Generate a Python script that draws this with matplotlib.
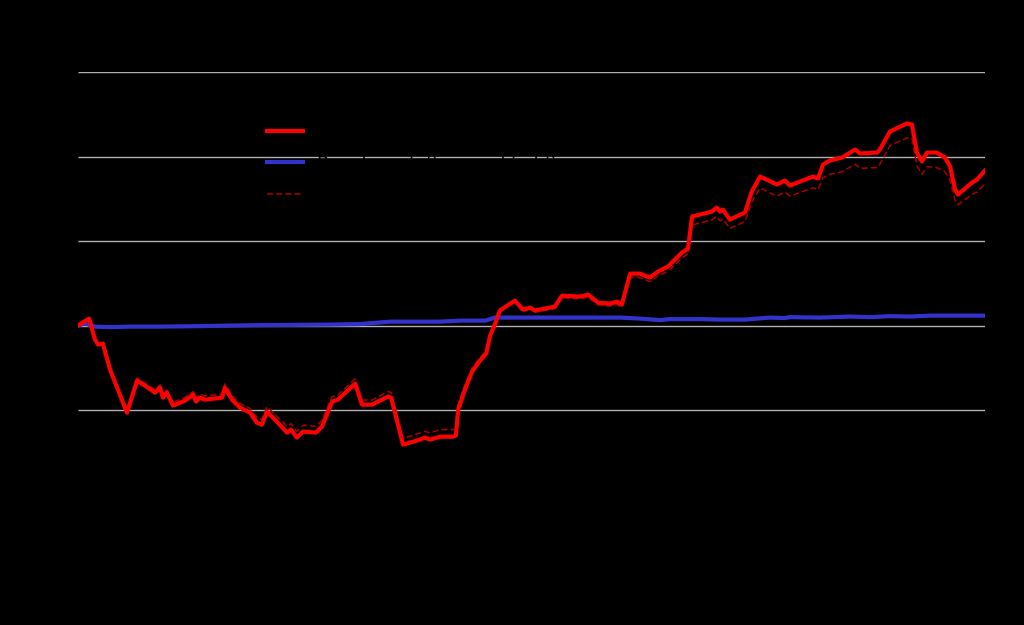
import matplotlib
matplotlib.use("Agg")
import matplotlib.pyplot as plt

# Trading-day index and cumulative returns (%)
strategy_days = [0, 1.7, 3.1, 4.7, 5.6, 6.9, 8.9, 13.6, 16.4, 18.6, 21.4, 22.8, 23.6, 24.7, 26.4,
                 29.7, 32.0, 32.8, 33.9, 35.3, 40.0, 40.8, 42.8, 45.0, 47.8, 49.7, 51.1, 52.5, 54.7,
                 58.1, 59.2, 60.8, 62.5, 66.1, 67.8, 70.6, 72.2, 77.0, 78.9, 81.7, 86.1, 87.0, 90.3,
                 92.2, 95.0, 96.4, 97.8, 100.6, 104.2, 105.0, 105.6, 107.5, 109.5, 111.7, 113.4,
                 114.5, 115.8, 117.2, 121.4, 123.6, 125.6, 127.0, 129.7, 132.5, 134.5, 139.5, 141.7,
                 144.5, 147.8, 149.7, 151.1, 153.4, 156.1, 158.9, 161.1, 163.9, 167.8, 169.5, 170.6,
                 176.1, 177.5, 178.4, 179.2, 181.1, 185.3, 187.2, 189.5, 194.2, 196.4, 197.8, 204.2,
                 205.6, 207.0, 208.9, 212.3, 215.9, 217.3, 222.0, 222.8, 225.6, 230.3, 231.7, 233.1,
                 234.5, 235.9, 238.6, 240.9, 242.3, 243.7, 244.5, 248.4, 249.8, 252.0]

strategy = [0.0, 0.47, 0.83, -1.66, -2.25, -2.13, -5.21, -10.30, -6.51, -7.10, -7.93, -7.34, -8.52,
            -7.93, -9.47, -8.88, -8.17, -8.99, -8.52, -8.76, -8.52, -7.34, -8.76, -9.70, -10.30,
            -11.48, -11.72, -10.18, -11.12, -12.66, -12.31, -13.25, -12.54, -12.66, -11.95, -8.99,
            -8.76, -6.86, -9.35, -9.35, -8.40, -8.52, -14.08, -13.85, -13.49, -13.25, -13.49,
            -13.14, -13.14, -13.0, -9.94, -7.57, -5.44, -4.14, -3.31, -1.18, 0.12, 1.78, 2.96,
            1.89, 2.13, 1.78, 2.01, 2.25, 3.55, 3.43, 3.67, 2.72, 2.60, 2.84, 2.49, 6.15, 6.15,
            5.68, 6.39, 6.98, 8.64, 9.11, 12.90, 13.49, 13.96, 13.49, 13.73, 12.54, 13.37, 15.86,
            17.63, 16.69, 17.16, 16.57, 17.63, 17.40, 19.05, 19.53, 19.88, 20.83, 20.36, 20.47,
            20.83, 22.96, 23.91, 23.79, 20.47, 19.41, 20.47, 20.47, 19.88, 18.82, 16.09, 15.50,
            16.92, 17.28, 18.34]

strategy_net = [0.0, 0.45, 0.8, -1.6, -2.2, -2.05, -5.1, -10.0, -6.2, -6.8, -7.6, -7.0, -8.2, -7.6,
                -9.1, -8.5, -7.8, -8.6, -8.1, -8.3, -8.1, -6.9, -8.3, -9.2, -9.8, -10.9, -11.1,
                -9.6, -10.5, -11.9, -11.6, -12.5, -11.8, -11.9, -11.2, -8.4, -8.2, -6.3, -8.8,
                -8.8, -7.8, -7.9, -13.3, -13.1, -12.7, -12.5, -12.7, -12.3, -12.3, -12.2, -9.3,
                -7.0, -5.0, -3.8, -3.0, -1.0, 0.1, 1.7, 2.8, 1.7, 1.95, 1.6, 1.8, 2.0, 3.3, 3.15,
                3.4, 2.45, 2.3, 2.5, 2.15, 5.7, 5.7, 5.2, 5.9, 6.4, 8.0, 8.5, 11.9, 12.5, 12.9,
                12.4, 12.6, 11.5, 12.3, 14.6, 16.3, 15.3, 15.8, 15.3, 16.3, 16.1, 17.5, 17.9, 18.2,
                19.1, 18.6, 18.7, 19.1, 21.3, 22.2, 22.1, 18.9, 17.9, 18.8, 18.7, 18.2, 17.2, 14.8,
                14.3, 15.5, 15.8, 16.8]

benchmark_days = [0, 1.9, 4.7, 8.9, 14.4, 22.8, 33.9, 50.6, 70.0, 78.3, 86.7, 100.6, 106.2, 113.2,
                  115.8, 125.6, 150.6, 156.1, 161.7, 164.4, 172.8, 178.4, 185.3, 192.2, 196.4,
                  197.8, 206.1, 214.5, 220.0, 225.6, 231.1, 236.7, 252.0]
benchmark = [0.0, 0.24, -0.12, -0.18, -0.12, -0.12, -0.06, 0.06, 0.12, 0.18, 0.47, 0.47, 0.59,
             0.59, 0.95, 0.95, 0.95, 0.83, 0.65, 0.77, 0.77, 0.71, 0.71, 0.95, 0.89, 1.0, 0.95,
             1.07, 1.0, 1.12, 1.07, 1.18, 1.18]

y_ticks = [-10, 0, 10, 20, 30]
labels = ["Strategy", "Benchmark (buy and hold)", "Strategy after costs"]

fig = plt.figure(figsize=(10.24, 6.25), dpi=100, facecolor="black")
ax = fig.add_axes([0.0762, 0.2288, 0.8857, 0.656])
ax.set_facecolor("black")

ax.plot(strategy_days, strategy, color="#ff0000", lw=3.0, label=labels[0], zorder=4)
ax.plot(benchmark_days, benchmark, color="#3333cc", lw=3.0, label=labels[1], zorder=3)
ax.plot(strategy_days, strategy_net, color="#aa0000", lw=1.1, ls=(0, (4, 2)), label=labels[2], zorder=2)

ax.set_xlim(0, 252)
ax.set_ylim(-18.5, 30)
ax.set_yticks(y_ticks)
ax.set_yticklabels([f"{t}%" for t in y_ticks], color="black")
ax.tick_params(axis="both", colors="black", labelcolor="black")
ax.grid(axis="y", color="#b0b0b0", lw=1.0, zorder=0)
ax.set_axisbelow(True)
for s in ax.spines.values():
    s.set_visible(False)
ax.set_xticks([])
ax.set_title("Cumulative return", color="black")

leg = ax.legend(loc="upper left", bbox_to_anchor=(0.19, 0.915), frameon=False,
                fontsize=13, handlelength=2.0, labelspacing=0.75)
for t in leg.get_texts():
    t.set_color("black")

fig.savefig("out.png", dpi=100, facecolor="black")
